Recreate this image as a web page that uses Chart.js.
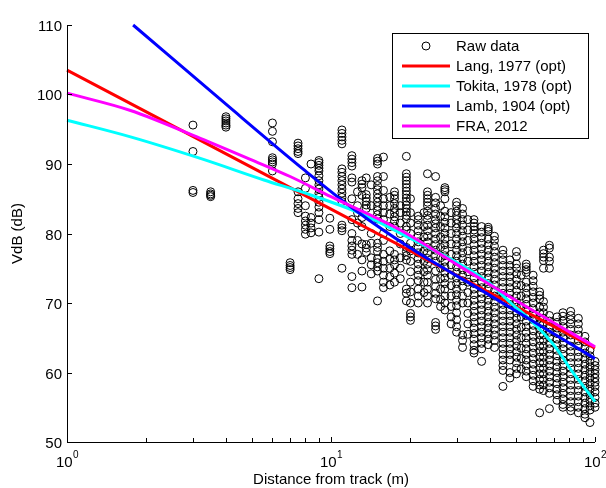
<!DOCTYPE html>
<html>
<head>
<meta charset="utf-8">
<script src="https://cdn.jsdelivr.net/npm/chart.js@4.4.1/dist/chart.umd.min.js"></script>
<style>
    html, body { margin: 0; padding: 0; background: #fff; }
    canvas { display: block; }
</style>
</head>
<body>
<canvas id="vdb-chart" width="606" height="488"></canvas>
<script>
/* -------- DATA START -------- */
// measured points, grouped by distance from track (m)
const rawDist = [3, 3.5, 4, 6, 7, 7.5, 8, 8.4, 9, 9.9, 11, 12, 12.6, 13.1, 13.6, 14.2, 15, 15.8, 16.7, 17.4, 18.3, 19.3, 20,
    21.4, 22.5, 23.2, 24.9, 26, 27, 28.5, 29.9, 31.5, 33, 34.8, 37.2, 39.4, 41.6, 44.8, 47.6, 50.4, 52.5, 54.9, 58.3,
    61.7, 63.8, 67.2, 71.8, 75.6, 80.9, 86.5, 91.6, 95.7, 100];
const rawLevels = [
    [95.6, 91.8, 86.2, 85.9],
    [86.0, 85.7, 85.5, 85.3],
    [96.8, 96.5, 96.2, 95.9, 95.6, 95.3],
    [95.9, 94.7, 93.2, 90.9, 90.6, 90.3, 90.0, 89.0],
    [75.8, 75.4, 75.1, 74.8],
    [93.0, 92.6, 92.2, 91.8, 91.5, 86.0, 85.0, 84.3, 83.6, 83.0],
    [88.0, 86.5, 84.0, 82.5, 81.8, 81.2, 80.6, 79.9],
    [90.0, 82.3, 81.5, 80.8, 80.1],
    [90.5, 90.2, 89.8, 89.4, 89.0, 88.3, 87.6, 87.0, 86.4, 85.8, 85.2, 84.5, 83.8, 83.0, 82.0, 80.2, 73.5],
    [82.2, 80.6, 78.2, 77.8, 77.4, 77.1],
    [94.9, 94.4, 93.9, 93.4, 92.9, 89.3, 88.8, 88.2, 87.6, 87.0, 86.4, 85.8, 85.2, 84.6, 81.2, 80.8, 80.4, 75.0],
    [91.2, 90.7, 90.2, 89.7, 88.0, 87.4, 85.0, 82.0, 80.0, 79.0, 78.2, 77.6, 77.0, 73.8, 72.2],
    [86.0, 84.0, 83.0, 81.5, 79.0, 77.0],
    [87.6, 87.1, 86.6, 85.5, 82.3, 81.0, 78.5, 76.2, 74.6, 72.3],
    [88.0, 85.6, 85.1, 84.6, 84.1, 83.6, 78.4, 77.9, 77.3],
    [87.0, 84.0, 80.0, 78.6, 76.5, 75.5, 74.2],
    [90.8, 90.4, 90.0, 88.2, 87.6, 86.9, 86.3, 85.7, 85.1, 84.5, 83.9, 83.3, 82.7, 82.1, 78.6, 78.0, 77.4, 76.4, 75.8, 75.2, 74.6, 70.3],
    [91.0, 88.2, 86.2, 85.0, 84.0, 83.0, 82.0, 80.0, 79.0, 77.0, 76.0, 75.0, 74.0, 73.0, 72.2],
    [85.2, 84.0, 82.8, 81.0, 77.5, 76.3, 75.0, 73.8, 72.6],
    [86.0, 85.5, 85.0, 84.3, 83.6, 83.0, 82.4, 81.8, 81.0, 77.0, 76.2, 75.5, 74.3, 73.0],
    [84.0, 83.0, 81.5, 80.0, 78.5, 76.5, 75.0, 73.5],
    [91.1, 88.6, 88.1, 87.6, 87.1, 86.6, 86.1, 85.6, 85.1, 84.6, 84.1, 83.6, 83.1, 82.6, 82.1, 81.0, 80.5, 78.0, 77.4, 76.8, 76.2, 72.0, 71.4, 70.3],
    [85.0, 83.0, 81.5, 80.0, 78.6, 77.5, 76.0, 74.5, 73.0, 71.6, 70.0, 68.5, 68.0, 67.5],
    [82.5, 82.0, 81.2, 80.4, 79.6, 78.8, 78.0, 77.2, 76.4, 75.6, 74.8, 74.0, 73.2, 72.0, 71.0, 70.0],
    [83.0, 81.0, 79.5, 77.5, 76.0, 74.5, 73.0, 71.5],
    [88.6, 86.0, 85.5, 85.0, 84.5, 84.0, 83.2, 82.6, 82.0, 81.2, 80.4, 79.6, 78.8, 78.0, 77.2, 76.4, 75.6, 74.8, 74.0, 73.0, 72.0, 71.0, 70.0],
    [88.2, 85.2, 84.4, 83.6, 82.8, 82.0, 81.4, 80.8, 80.0, 79.2, 78.4, 77.6, 76.8, 76.0, 74.6, 73.4, 72.4, 71.4, 70.6, 67.2, 66.7, 66.2],
    [84.0, 82.5, 81.0, 79.5, 78.0, 76.5, 75.0, 73.5, 72.0, 70.5, 69.5],
    [86.6, 86.3, 86.0, 85.0, 83.2, 82.4, 81.6, 80.8, 80.0, 79.2, 78.4, 77.6, 76.8, 76.0, 75.2, 74.4, 73.6, 72.8, 72.0, 71.0, 70.0, 69.0],
    [83.0, 81.5, 80.0, 78.5, 77.0, 75.5, 74.0, 72.5, 71.0, 69.5, 68.0, 67.0],
    [84.5, 84.0, 83.2, 82.6, 82.0, 81.4, 80.8, 80.0, 79.2, 78.4, 77.6, 76.8, 76.0, 75.2, 74.4, 73.6, 72.8, 72.0, 71.2, 70.4, 69.6, 68.6, 67.6, 66.6, 65.8],
    [83.6, 82.8, 82.0, 81.2, 80.4, 79.6, 78.8, 78.0, 77.2, 76.4, 75.6, 74.8, 74.0, 73.2, 72.4, 71.0, 70.0, 65.4, 64.6, 63.6],
    [82.0, 80.5, 79.0, 77.5, 76.0, 74.5, 73.0, 71.5, 70.0, 68.5, 67.0, 65.5],
    [82.0, 81.5, 81.0, 80.5, 80.0, 79.2, 78.4, 77.6, 76.8, 76.0, 75.2, 74.4, 73.6, 72.8, 72.0, 71.2, 70.4, 69.6, 68.8, 68.0, 67.2, 66.4, 65.6, 64.8, 64.0, 63.2, 62.8],
    [81.0, 80.2, 79.4, 78.6, 77.8, 77.0, 76.2, 75.4, 74.6, 73.8, 73.0, 72.2, 71.4, 70.6, 69.8, 69.0, 68.2, 67.4, 66.6, 65.8, 65.0, 64.2, 63.4, 61.6],
    [80.9, 80.6, 80.3, 79.2, 78.4, 77.6, 76.8, 76.0, 75.2, 74.4, 73.6, 72.8, 72.0, 71.2, 70.4, 69.6, 68.8, 68.0, 67.2, 66.4, 65.6, 64.8, 64.0],
    [79.6, 79.0, 78.2, 77.4, 76.6, 75.8, 75.0, 74.2, 73.4, 72.6, 71.8, 71.0, 70.2, 69.4, 68.6, 67.8, 67.0, 66.2, 65.4, 64.6, 63.6],
    [77.6, 77.0, 76.2, 75.4, 74.6, 73.8, 73.0, 72.2, 71.4, 70.6, 69.8, 69.0, 68.2, 67.4, 66.6, 65.8, 65.0, 64.2, 63.4, 62.6, 61.8, 61.0, 60.3, 58.0],
    [76.2, 75.4, 74.6, 73.8, 73.0, 72.2, 71.4, 70.6, 69.8, 69.0, 68.2, 67.4, 66.6, 65.8, 65.0, 64.2, 63.4, 62.6, 61.8, 60.0, 59.2],
    [77.4, 76.7, 75.6, 75.0, 74.2, 73.4, 72.6, 71.8, 71.0, 70.2, 69.4, 68.6, 67.8, 67.0, 66.2, 65.4, 64.6, 63.8, 63.0, 62.2, 61.4, 60.6, 59.8],
    [74.0, 72.5, 71.0, 69.5, 68.0, 66.5, 65.0, 63.5, 62.0, 60.5],
    [75.6, 75.2, 74.8, 74.4, 73.0, 72.2, 71.4, 70.6, 69.8, 69.0, 68.2, 67.4, 66.6, 65.8, 65.0, 64.2, 63.4, 62.6, 61.8, 61.0, 60.2, 59.4],
    [74.0, 73.2, 72.4, 71.6, 70.8, 70.0, 69.2, 68.4, 67.6, 66.8, 66.0, 65.2, 64.4, 63.6, 62.8, 62.0, 61.2, 60.4, 59.6, 58.8, 58.0],
    [71.6, 71.1, 70.6, 69.4, 68.6, 67.8, 67.0, 66.2, 65.4, 64.6, 63.8, 63.0, 62.2, 61.4, 60.6, 59.8, 59.0, 58.2, 57.6, 54.2],
    [77.6, 77.1, 76.6, 76.1, 75.0, 70.2, 69.4, 68.6, 67.8, 67.0, 66.2, 65.4, 64.6, 63.8, 63.0, 62.2, 61.4, 60.6, 59.8, 59.0, 58.2, 57.4],
    [78.3, 77.9, 76.6, 76.0, 75.0, 68.2, 67.4, 66.6, 65.8, 65.0, 64.2, 63.4, 62.6, 61.8, 61.0, 60.2, 59.4, 58.6, 57.8, 57.0, 54.8],
    [68.0, 67.2, 66.4, 65.6, 64.8, 64.0, 63.2, 62.4, 61.6, 60.8, 60.0, 59.2, 58.4, 57.6, 56.8, 56.0],
    [68.6, 68.1, 67.4, 66.6, 65.8, 65.0, 64.2, 63.4, 62.6, 61.8, 61.0, 60.2, 59.4, 58.6, 57.8, 57.0, 56.2, 55.4, 55.0],
    [68.8, 68.2, 67.6, 67.0, 66.2, 65.4, 64.6, 63.8, 63.0, 62.2, 61.4, 60.6, 59.8, 59.0, 58.2, 57.4, 56.6, 55.8, 55.0, 54.5],
    [67.8, 67.0, 66.2, 65.4, 64.6, 63.8, 63.0, 62.2, 61.4, 60.6, 59.8, 59.0, 58.2, 57.4, 56.6, 55.8, 55.0, 54.2],
    [65.2, 64.4, 63.6, 62.8, 62.0, 61.2, 60.4, 59.6, 58.8, 58.0, 57.2, 56.4, 55.6, 54.8, 54.0, 53.5],
    [63.2, 62.4, 61.6, 60.8, 60.0, 59.2, 58.4, 57.6, 56.8, 56.0, 55.2, 54.6, 52.8],
    [61.6, 61.0, 60.4, 59.8, 59.2, 58.6, 58.0, 57.2, 56.4, 55.6, 55.0]
];

// fitted curves
const langDist = [1, 10, 100];
const langLevel = [103.5, 83.5, 63.5];
const tokitaDist = [1, 1.74, 3.2, 5.57, 8, 12.9, 20, 31, 40, 48, 56, 64, 72, 81, 90, 100];
const tokitaLevel = [96.3, 93.9, 90.8, 87.7, 85.8, 82.9, 79.3, 75.5, 72.8, 70.0, 67.8, 65.6, 63.3, 60.4, 58.1, 55.8];
const lambDist = [1.78, 4, 8, 12.4, 20, 40, 100];
const lambLevel = [110, 98.6, 89.0, 83.3, 77.9, 71.1, 62.0];
const fraDist = [1, 1.74, 3.2, 5, 7, 10, 18.3, 31, 50, 100];
const fraLevel = [100.2, 97.7, 93.7, 90.6, 88.2, 85.3, 80.5, 75.2, 70.4, 63.7];

const seriesNames = ["Raw data", "Lang, 1977 (opt)", "Tokita, 1978 (opt)", "Lamb, 1904 (opt)", "FRA, 2012"];
const seriesColors = ["#000000", "#ff0000", "#00ffff", "#0000ff", "#ff00ff"];

const yTicks = [50, 60, 70, 80, 90, 100, 110];
const xMajorTicks = [1, 10, 100];
const xMajorExp = ["0", "1", "2"];
const xTitle = "Distance from track (m)";
const yTitle = "VdB (dB)";
/* -------- DATA END -------- */

/* -------- FUNCTIONS START -------- */
function toPoints(xs, ys) {
    return xs.map((x, i) => ({ x: x, y: ys[i] }));
}

function rawPoints() {
    const pts = [];
    rawDist.forEach((d, i) => {
        rawLevels[i].forEach(v => pts.push({ x: d, y: v }));
    });
    return pts;
}

function lineSet(label, color, xs, ys, order) {
    return {
        label: label,
        data: toPoints(xs, ys),
        showLine: true,
        borderColor: color,
        backgroundColor: color,
        borderWidth: 3,
        pointRadius: 0,
        cubicInterpolationMode: "monotone",
        clip: false,
        order: order,
    };
}
/* -------- FUNCTIONS END -------- */

/* -------- PLUGINS START -------- */
// MATLAB-like axes: left and bottom only, ticks pointing inward
const matlabAxes = {
    id: "matlabAxes",
    afterDraw(chart) {
        const ctx = chart.ctx;
        const area = chart.chartArea;
        const xs = chart.scales.x;
        const ys = chart.scales.y;
        ctx.save();
        ctx.strokeStyle = "#000";
        ctx.fillStyle = "#000";
        ctx.lineWidth = 1;

        // axis lines
        ctx.beginPath();
        ctx.moveTo(area.left + 0.5, area.top);
        ctx.lineTo(area.left + 0.5, area.bottom + 0.5);
        ctx.lineTo(area.right, area.bottom + 0.5);
        ctx.stroke();

        // y ticks + labels
        ctx.font = "15px 'Liberation Sans', Arial, sans-serif";
        ctx.textAlign = "right";
        ctx.textBaseline = "middle";
        yTicks.forEach(v => {
            const py = Math.round(ys.getPixelForValue(v)) + 0.5;
            ctx.beginPath();
            ctx.moveTo(area.left, py);
            ctx.lineTo(area.left + 5, py);
            ctx.stroke();
            ctx.fillText(String(v), area.left - 5, py + 1);
        });

        // x ticks (major + minor)
        for (let dec = 1; dec < 100; dec *= 10) {
            for (let k = 1; k <= 10; k++) {
                const v = dec * k;
                const px = Math.round(xs.getPixelForValue(v)) + 0.5;
                const len = (k === 1 || k === 10) ? 5 : 4;
                ctx.beginPath();
                ctx.moveTo(px, area.bottom);
                ctx.lineTo(px, area.bottom - len);
                ctx.stroke();
            }
        }

        // x labels as 10^n
        ctx.textAlign = "left";
        ctx.textBaseline = "alphabetic";
        xMajorTicks.forEach((v, i) => {
            const px = xs.getPixelForValue(v);
            ctx.font = "15px 'Liberation Sans', Arial, sans-serif";
            const wb = ctx.measureText("10").width;
            ctx.font = "10px 'Liberation Sans', Arial, sans-serif";
            const we = ctx.measureText(xMajorExp[i]).width;
            const x0 = px - (wb + we) / 2;
            ctx.font = "15px 'Liberation Sans', Arial, sans-serif";
            ctx.fillText("10", x0, area.bottom + 25);
            ctx.font = "10px 'Liberation Sans', Arial, sans-serif";
            ctx.fillText(xMajorExp[i], x0 + wb + 0.5, area.bottom + 16);
        });

        // axis titles
        ctx.font = "15px 'Liberation Sans', Arial, sans-serif";
        ctx.textAlign = "center";
        ctx.fillText(xTitle, (area.left + area.right) / 2, area.bottom + 42);
        ctx.save();
        ctx.translate(18, (area.top + area.bottom) / 2);
        ctx.rotate(-Math.PI / 2);
        ctx.textBaseline = "middle";
        ctx.fillText(yTitle, 0, 0);
        ctx.restore();

        // legend box
        const lx = 392, ly = 33, lw = 196, lh = 105;
        ctx.fillStyle = "#fff";
        ctx.fillRect(lx, ly, lw, lh);
        ctx.strokeStyle = "#000";
        ctx.lineWidth = 1;
        ctx.strokeRect(lx + 0.5, ly + 0.5, lw, lh);
        ctx.font = "15px 'Liberation Sans', Arial, sans-serif";
        ctx.textAlign = "left";
        ctx.textBaseline = "middle";
        seriesNames.forEach((name, i) => {
            const ry = ly + 13 + i * 20;
            if (i === 0) {
                ctx.beginPath();
                ctx.arc(426, ry, 4, 0, Math.PI * 2);
                ctx.strokeStyle = "#000";
                ctx.lineWidth = 1;
                ctx.stroke();
            } else {
                ctx.beginPath();
                ctx.moveTo(402, ry);
                ctx.lineTo(450, ry);
                ctx.strokeStyle = seriesColors[i];
                ctx.lineWidth = 3;
                ctx.stroke();
            }
            ctx.fillStyle = "#000";
            ctx.fillText(name, 456, ry + 1);
        });
        ctx.restore();
    }
};
/* -------- PLUGINS END -------- */

/* -------- PROGRAM START -------- */
const ctx = document.getElementById("vdb-chart").getContext("2d");
const chart = new Chart(ctx, {
    type: "scatter",
    data: {
        datasets: [
            {
                label: seriesNames[0],
                data: rawPoints(),
                pointStyle: "circle",
                pointRadius: 4,
                borderWidth: 1,
                borderColor: "#000",
                backgroundColor: "rgba(0,0,0,0)",
                clip: false,
                order: 5,
            },
            lineSet(seriesNames[1], seriesColors[1], langDist, langLevel, 4),
            lineSet(seriesNames[2], seriesColors[2], tokitaDist, tokitaLevel, 3),
            lineSet(seriesNames[3], seriesColors[3], lambDist, lambLevel, 2),
            lineSet(seriesNames[4], seriesColors[4], fraDist, fraLevel, 1),
        ]
    },
    options: {
        responsive: false,
        animation: false,
        devicePixelRatio: 1,
        layout: { padding: { left: 67, right: 11, top: 25, bottom: 46 } },
        plugins: {
            legend: { display: false },
            tooltip: { enabled: false },
        },
        scales: {
            x: { type: "logarithmic", min: 1, max: 100, display: false },
            y: { type: "linear", min: 50, max: 110, display: false },
        },
    },
    plugins: [matlabAxes],
});
/* -------- PROGRAM END -------- */
</script>
</body>
</html>
